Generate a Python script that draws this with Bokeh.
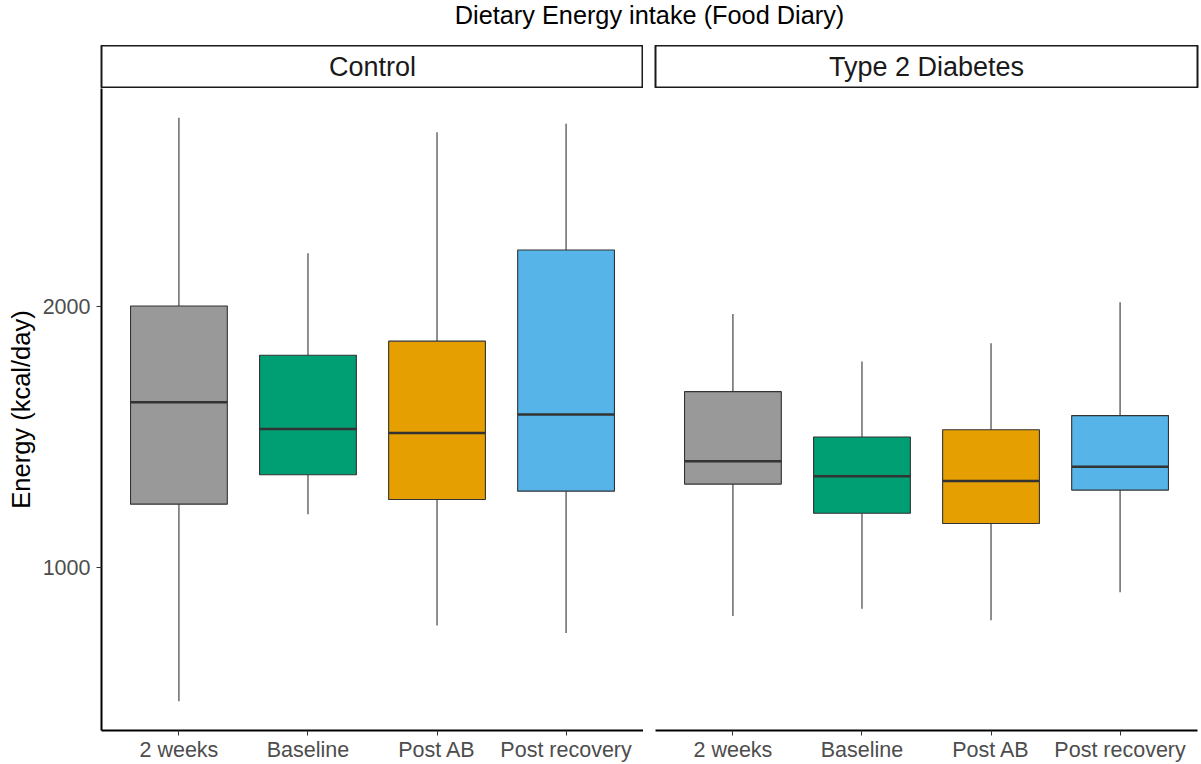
from bokeh.plotting import figure
from bokeh.layouts import column, row
from bokeh.models import Range1d, FixedTicker, ColumnDataSource, Grid
from bokeh.transform import dodge
from bokeh.core.properties import value
from bokeh.embed import file_html
from bokeh.resources import INLINE

title = "Dietary Energy intake (Food Diary)"
y_label = "Energy (kcal/day)"
categories = ["2 weeks", "Baseline", "Post AB", "Post recovery"]
facets = ["Control", "Type 2 Diabetes"]
colors = ["#999999", "#009E73", "#E69F00", "#56B4E9"]
y_ticks = [1000, 2000]

control_lo = [485, 1203, 776, 747]
control_q1 = [1242, 1355, 1260, 1292]
control_med = [1633, 1531, 1515, 1586]
control_q3 = [2003, 1814, 1868, 2218]
control_hi = [2726, 2205, 2670, 2703]

t2d_lo = [813, 840, 796, 904]
t2d_q1 = [1319, 1207, 1168, 1296]
t2d_med = [1407, 1349, 1331, 1386]
t2d_q3 = [1674, 1500, 1528, 1582]
t2d_hi = [1972, 1790, 1860, 2017]

FONT = "Liberation Sans"
FRAME_W = 542
FRAME_H = 642
LEFT = 101
GAP = 12
RIGHT = 2

all_lo = min(control_lo + t2d_lo)
all_hi = max(control_hi + t2d_hi)
span = all_hi - all_lo
y_range = Range1d(all_lo - 0.05 * span, all_hi + 0.05 * span)

xs = list(range(1, len(categories) + 1))
BOX_W = 0.75


def hide_grids(fig):
    for r in fig.center:
        if isinstance(r, Grid):
            r.visible = False


def make_panel(lo, q1, med, q3, hi, first):
    src = ColumnDataSource(dict(x=xs, lo=lo, q1=q1, med=med, q3=q3, hi=hi, color=colors))
    p = figure(frame_width=FRAME_W, frame_height=FRAME_H,
               x_range=Range1d(0.4, len(categories) + 0.6), y_range=y_range,
               output_backend="svg", toolbar_location=None,
               y_axis_location="left" if first else None,
               min_border_left=LEFT if first else GAP,
               min_border_right=0 if first else RIGHT,
               min_border_top=0, min_border_bottom=0)
    p.outline_line_color = None
    p.background_fill_color = "white"
    p.border_fill_color = "white"
    hide_grids(p)

    p.segment(x0="x", x1="x", y0="q3", y1="hi", source=src, line_color="#333333", line_width=1.1)
    p.segment(x0="x", x1="x", y0="lo", y1="q1", source=src, line_color="#333333", line_width=1.1)
    p.vbar(x="x", width=BOX_W, bottom="q1", top="q3", source=src,
           fill_color="color", line_color="#333333", line_width=1.1)
    p.segment(x0=dodge("x", -BOX_W / 2), x1=dodge("x", BOX_W / 2), y0="med", y1="med",
              source=src, line_color="#333333", line_width=2.5)

    xa = p.xaxis[0]
    xa.ticker = FixedTicker(ticks=xs)
    xa.major_label_overrides = {x: c for x, c in zip(xs, categories)}
    xa.axis_line_width = 2
    xa.axis_line_color = "black"
    xa.major_tick_in = 0
    xa.major_tick_out = 5
    xa.major_tick_line_color = "#333333"
    xa.minor_tick_line_color = None
    xa.major_label_text_font = FONT
    xa.major_label_text_font_size = "21.5px"
    xa.major_label_text_color = "#4D4D4D"
    xa.major_label_standoff = 2

    if first:
        ya = p.yaxis[0]
        ya.ticker = FixedTicker(ticks=y_ticks)
        ya.axis_line_width = 2
        ya.axis_line_color = "black"
        ya.major_tick_in = 0
        ya.major_tick_out = 5
        ya.major_tick_line_color = "#333333"
        ya.minor_tick_line_color = None
        ya.major_label_text_font = FONT
        ya.major_label_text_font_size = "21.5px"
        ya.major_label_text_color = "#4D4D4D"
        ya.major_label_standoff = 6
        ya.axis_label = y_label
        ya.axis_label_text_font = FONT
        ya.axis_label_text_font_size = "25.5px"
        ya.axis_label_text_font_style = "normal"
        ya.axis_label_text_color = "black"
        ya.axis_label_standoff = 5
    return p


def make_strip(label, first):
    s = figure(frame_width=FRAME_W, frame_height=43,
               x_range=Range1d(0, 1), y_range=Range1d(0, 1),
               output_backend="svg", toolbar_location=None,
               x_axis_location=None, y_axis_location=None,
               min_border_left=LEFT if first else GAP,
               min_border_right=0 if first else RIGHT,
               min_border_top=0, min_border_bottom=0)
    s.outline_line_color = "#1A1A1A"
    s.outline_line_width = 2
    s.background_fill_color = "white"
    s.border_fill_color = "white"
    hide_grids(s)
    s.text(x=[0.5], y=[0.5], text=[label], text_align="center", text_baseline="middle",
           text_font=value(FONT), text_font_size="27px", text_color="#1A1A1A")
    return s


t = figure(frame_width=2 * FRAME_W + GAP, frame_height=45,
           x_range=Range1d(0, 1), y_range=Range1d(0, 1),
           output_backend="svg", toolbar_location=None,
           x_axis_location=None, y_axis_location=None,
           min_border_left=LEFT, min_border_right=RIGHT,
           min_border_top=0, min_border_bottom=0)
t.outline_line_color = None
t.border_fill_color = "white"
t.background_fill_color = "white"
hide_grids(t)
t.text(x=[0.5], y=[0.68], text=[title], text_align="center", text_baseline="alphabetic",
       text_font=value(FONT), text_font_size="25.3px", text_color="black")

p1 = make_panel(control_lo, control_q1, control_med, control_q3, control_hi, True)
p2 = make_panel(t2d_lo, t2d_q1, t2d_med, t2d_q3, t2d_hi, False)
s1 = make_strip(facets[0], True)
s2 = make_strip(facets[1], False)

layout = column(t, row(s1, s2), row(p1, p2))
open("out.html", "w").write(file_html(layout, INLINE))
